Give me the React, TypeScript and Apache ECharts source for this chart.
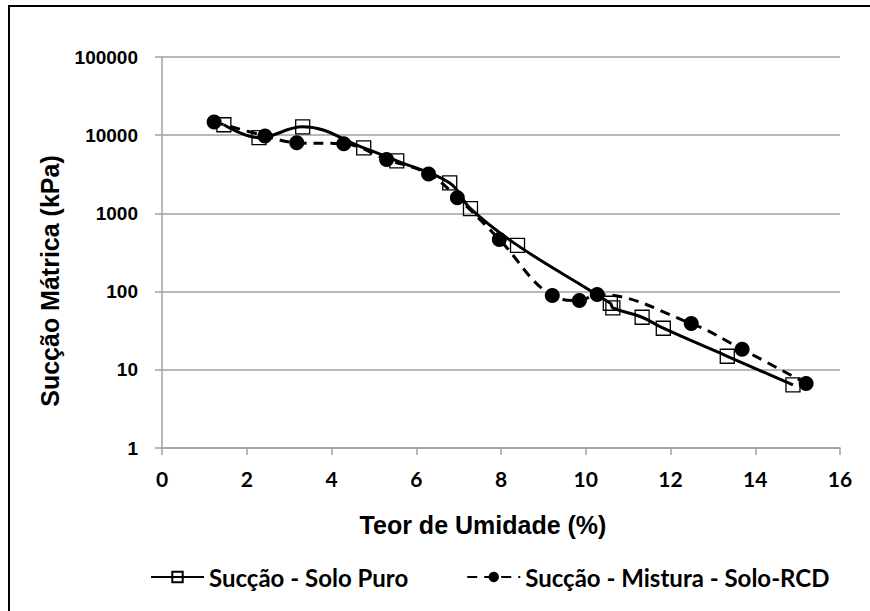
import React, { useEffect, useRef } from "react";
import * as echarts from "echarts";

const xTicks = [0, 2, 4, 6, 8, 10, 12, 14, 16];
const yTicks = [1, 10, 100, 1000, 10000, 100000];

const seriesNames = ["Sucção - Solo Puro", "Sucção - Mistura - Solo-RCD"];

const xPuro = [1.46, 2.29, 3.32, 4.76, 5.54, 6.79, 7.28, 8.39, 10.58, 10.64, 11.33, 11.83, 13.34, 14.89];
const yPuro = [13600, 9300, 12800, 6900, 4700, 2450, 1150, 390, 71, 62, 47, 34, 14.9, 6.4];

const xMistura = [1.23, 2.43, 3.18, 4.29, 5.3, 6.29, 6.97, 7.96, 9.21, 9.85, 10.27, 12.49, 13.69, 15.2];
const yMistura = [14800, 9800, 8000, 7750, 4900, 3200, 1590, 465, 89, 77, 92, 39, 18.3, 6.7];

const xTitle = "Teor de Umidade (%)";
const yTitle = "Sucção Mátrica (kPa)";

export default function App() {
  const ref = useRef<HTMLDivElement>(null);
  useEffect(() => {
    if (!ref.current) return;
    const chart = echarts.init(ref.current, undefined, { renderer: "svg" });
    const gray = "#a0a0a0";
    chart.setOption({
      animation: false,
      backgroundColor: "#ffffff",
      grid: { left: 162, right: 30, top: 57, bottom: 163 },
      xAxis: {
        type: "value",
        min: xTicks[0],
        max: xTicks[xTicks.length - 1],
        interval: 2,
        splitLine: { show: false },
        axisLine: { show: true, lineStyle: { color: gray, width: 1.5 } },
        axisTick: { show: true, length: 7, lineStyle: { color: gray, width: 1.5 } },
        axisLabel: {
          margin: 20,
          color: "#000",
          fontFamily: "Lato",
          fontWeight: "bold",
          fontSize: 21,
        },
      },
      yAxis: {
        type: "log",
        logBase: 10,
        min: yTicks[0],
        max: yTicks[yTicks.length - 1],
        splitLine: { show: true, lineStyle: { color: gray, width: 1.5 } },
        minorTick: { show: false },
        axisLine: { show: true, lineStyle: { color: gray, width: 1.5 } },
        axisTick: { show: true, length: 7, lineStyle: { color: gray, width: 1.5 } },
        axisLabel: {
          margin: 24,
          color: "#000",
          fontFamily: "Liberation Sans",
          fontWeight: "bold",
          fontSize: 19,
          formatter: (v: number) => String(Math.round(v)),
        },
      },
      legend: {
        left: 145,
        top: 560,
        itemWidth: 53,
        itemHeight: 13,
        itemGap: 58,
        data: seriesNames,
        textStyle: {
          fontFamily: "Lato",
          fontWeight: "bold",
          fontSize: 24,
          color: "#000",
        },
      },
      graphic: [
        {
          type: "rect",
          shape: { x: 9, y: 6, width: 1000, height: 1000 },
          style: { fill: "none", stroke: "#000", lineWidth: 2 },
          silent: true,
        },
        {
          type: "text",
          x: 483,
          y: 525,
          style: {
            text: xTitle,
            fontFamily: "Liberation Sans",
            fontWeight: "bold",
            fontSize: 25,
            fill: "#000",
            align: "center",
            verticalAlign: "middle",
          },
        },
        {
          type: "text",
          x: 50,
          y: 281,
          rotation: Math.PI / 2,
          style: {
            text: yTitle,
            fontFamily: "Liberation Sans",
            fontWeight: "bold",
            fontSize: 25,
            fill: "#000",
            align: "center",
            verticalAlign: "middle",
          },
        },
      ],
      series: [
        {
          name: seriesNames[0],
          type: "line",
          smooth: 0.4,
          z: 3,
          data: xPuro.map((x, i) => [x, yPuro[i]]),
          symbol: "rect",
          symbolSize: 14,
          itemStyle: { color: "rgba(255,255,255,0)", borderColor: "#000", borderWidth: 1.3 },
          lineStyle: { color: "#000", width: 3 },
        },
        {
          name: seriesNames[1],
          type: "line",
          smooth: 0.4,
          z: 2,
          data: xMistura.map((x, i) => [x, yMistura[i]]),
          symbol: "circle",
          symbolSize: 15,
          itemStyle: { color: "#000", borderColor: "#000", borderWidth: 0 },
          lineStyle: { color: "#000", width: 3, type: [10, 7] },
        },
      ],
    });
    return () => chart.dispose();
  }, []);
  return (
    <div
      ref={ref}
      style={{ position: "fixed", left: 0, top: 0, width: 870, height: 611 }}
    />
  );
}
